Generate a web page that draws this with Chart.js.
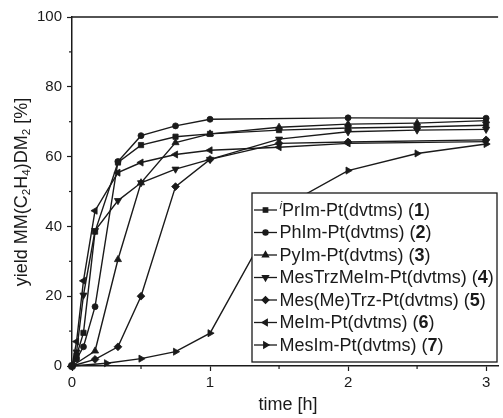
<!DOCTYPE html>
<html>
<head>
<meta charset="utf-8">
<script src="https://cdn.jsdelivr.net/npm/chart.js@4.4.1/dist/chart.umd.min.js"></script>
<style>
  html, body { margin: 0; padding: 0; background: #fff; }
  #wrap { width: 503px; height: 418px; }
</style>
</head>
<body>
<div id="wrap"><canvas id="yieldChart" width="503" height="418"></canvas></div>
<script>
const FONT = "'Liberation Sans', Arial, sans-serif";
const INK = '#1a1a1a';

// sampling times [h] and yields [%], one pair per complex
const t1 = [0, 0.033, 0.083, 0.167, 0.333, 0.5, 0.75, 1, 1.5, 2, 2.5, 3];
const y1 = [0, 3, 9.5, 38.5, 58.3, 63.3, 65.7, 66.5, 67.6, 68.2, 68.5, 69];
const t2 = [0, 0.033, 0.083, 0.167, 0.333, 0.5, 0.75, 1, 2, 3];
const y2 = [0, 2, 5.5, 17, 58.6, 66, 68.8, 70.7, 71.1, 71];
const t3 = [0, 0.167, 0.333, 0.5, 0.75, 1, 1.5, 2, 2.5, 3];
const y3 = [0, 4.3, 30.5, 52.5, 64, 66.5, 68.4, 69.3, 69.6, 70.3];
const t4 = [0, 0.033, 0.083, 0.167, 0.333, 0.5, 0.75, 1, 1.5, 2, 2.5, 3];
const y4 = [0, 4, 20.3, 38.8, 47.4, 52.5, 56.4, 59.2, 65, 67.1, 67.6, 67.8];
const t5 = [0, 0.167, 0.333, 0.5, 0.75, 1, 1.5, 2, 3];
const y5 = [0, 1.9, 5.5, 20, 51.4, 59.2, 63.8, 64.2, 64.8];
const t6 = [0, 0.033, 0.083, 0.167, 0.333, 0.5, 0.75, 1, 1.5, 2, 3];
const y6 = [0, 7, 24.4, 44.5, 55.4, 58.3, 60.6, 61.8, 62.7, 63.8, 64.3];
const t7 = [0, 0.25, 0.5, 0.75, 1, 1.5, 2, 2.5, 3];
const y7 = [0, 0.8, 2.1, 4.1, 9.4, 45, 56, 60.9, 63.6];

const names = ['PrIm-Pt(dvtms)', 'PhIm-Pt(dvtms)', 'PyIm-Pt(dvtms)', 'MesTrzMeIm-Pt(dvtms)',
               'Mes(Me)Trz-Pt(dvtms)', 'MeIm-Pt(dvtms)', 'MesIm-Pt(dvtms)'];
const numbers = ['1', '2', '3', '4', '5', '6', '7'];
const xTickLabels = ['0', '1', '2', '3'];
const yTickLabels = ['0', '20', '40', '60', '80', '100'];

const times = [t1, t2, t3, t4, t5, t6, t7];
const yields = [y1, y2, y3, y4, y5, y6, y7];
const markers = [
  { style: 'rect', rot: 0, r: 3.7 },
  { style: 'circle', rot: 0, r: 3.0 },
  { style: 'triangle', rot: 0, r: 4.1 },
  { style: 'triangle', rot: 180, r: 4.1 },
  { style: 'rectRot', rot: 0, r: 3.9 },
  { style: 'triangle', rot: 270, r: 4.1 },
  { style: 'triangle', rot: 90, r: 4.1 }
];

const datasets = times.map((t, i) => ({
  label: names[i],
  data: t.map((x, j) => ({ x: x, y: yields[i][j] })),
  showLine: true,
  borderColor: INK,
  borderWidth: 1.4,
  backgroundColor: INK,
  pointBackgroundColor: INK,
  pointBorderColor: INK,
  pointBorderWidth: 0.8,
  pointStyle: markers[i].style,
  pointRotation: markers[i].rot,
  pointRadius: markers[i].r,
  clip: false
}));

function drawMarker(ctx, m, x, y) {
  ctx.save();
  ctx.fillStyle = INK;
  ctx.strokeStyle = INK;
  Chart.helpers.drawPoint(ctx, { pointStyle: m.style, rotation: m.rot, radius: m.r * 0.85, borderWidth: 0.8 }, x, y);
  ctx.restore();
}

// draws pieces of text one after another, returns end x
function drawRuns(ctx, runs, x, y, size) {
  runs.forEach(run => {
    let s = size, dy = 0, f = '';
    if (run.kind === 'sub') { s = size * 0.65; dy = size * 0.28; }
    if (run.kind === 'sup') { s = size * 0.65; dy = -size * 0.3; f = 'italic '; }
    if (run.kind === 'bold') { f = 'bold '; }
    ctx.font = f + s + 'px ' + FONT;
    ctx.fillText(run.text, x, y + dy);
    x += ctx.measureText(run.text).width;
  });
  return x;
}
function runsWidth(ctx, runs, size) {
  let w = 0;
  runs.forEach(run => {
    let s = (run.kind === 'sub' || run.kind === 'sup') ? size * 0.65 : size;
    let f = run.kind === 'bold' ? 'bold ' : (run.kind === 'sup' ? 'italic ' : '');
    ctx.font = f + s + 'px ' + FONT;
    w += ctx.measureText(run.text).width;
  });
  return w;
}

const extras = {
  id: 'extras',
  afterDraw(chart) {
    const ctx = chart.ctx;
    const area = chart.chartArea;
    const xs = chart.scales.x, ys = chart.scales.y;

    ctx.save();
    // top frame line
    ctx.strokeStyle = INK;
    ctx.lineWidth = 1.5;
    ctx.beginPath();
    ctx.moveTo(area.left, area.top);
    ctx.lineTo(area.right, area.top);
    ctx.stroke();

    // minor ticks (the unlabelled ones)
    ctx.lineWidth = 1.2;
    xs.ticks.forEach(tk => {
      if (!xTickLabels.includes(String(tk.value))) {
        const px = xs.getPixelForValue(tk.value);
        ctx.beginPath(); ctx.moveTo(px, area.bottom); ctx.lineTo(px, area.bottom + 3); ctx.stroke();
      }
    });
    ys.ticks.forEach(tk => {
      if (!yTickLabels.includes(String(tk.value))) {
        const py = ys.getPixelForValue(tk.value);
        ctx.beginPath(); ctx.moveTo(area.left - 3, py); ctx.lineTo(area.left, py); ctx.stroke();
      }
    });

    // axis titles
    ctx.fillStyle = INK;
    ctx.textBaseline = 'middle';
    ctx.font = '18px ' + FONT;
    ctx.textAlign = 'center';
    ctx.fillText('time [h]', 288, 405);

    const yTitle = [
      { text: 'yield MM(C' }, { text: '2', kind: 'sub' }, { text: 'H' }, { text: '4', kind: 'sub' },
      { text: ')DM' }, { text: '2', kind: 'sub' }, { text: ' [%]' }
    ];
    ctx.textAlign = 'left';
    ctx.save();
    ctx.translate(22, 192);
    ctx.rotate(-Math.PI / 2);
    const w = runsWidth(ctx, yTitle, 18);
    drawRuns(ctx, yTitle, -w / 2, 0, 18);
    ctx.restore();

    // legend box
    const lx = 252, ly = 193, lw = 245, lh = 169;
    ctx.fillStyle = '#fff';
    ctx.fillRect(lx, ly, lw, lh);
    ctx.strokeStyle = INK;
    ctx.lineWidth = 1.3;
    ctx.strokeRect(lx, ly, lw, lh);
    ctx.fillStyle = INK;
    names.forEach((name, i) => {
      const ry = 210 + i * 22.5;
      ctx.beginPath();
      ctx.moveTo(lx + 2, ry); ctx.lineTo(lx + 25, ry);
      ctx.stroke();
      drawMarker(ctx, markers[i], lx + 13.5, ry);
      const runs = [];
      if (i === 0) runs.push({ text: 'i', kind: 'sup' });
      runs.push({ text: name + ' (' }, { text: numbers[i], kind: 'bold' }, { text: ')' });
      ctx.fillStyle = INK;
      drawRuns(ctx, runs, lx + 27.5, ry + 1, 18);
    });
    ctx.restore();
  }
};

new Chart(document.getElementById('yieldChart'), {
  type: 'scatter',
  data: { datasets: datasets },
  options: {
    responsive: false,
    animation: false,
    layout: { padding: { top: 17, right: 0, left: 0, bottom: 0 } },
    plugins: { legend: { display: false }, tooltip: { enabled: false } },
    scales: {
      x: {
        type: 'linear',
        min: 0,
        max: 3.087,
        afterFit(scale) { scale.height = 52; },
        border: { color: INK, width: 1.5 },
        grid: {
          drawOnChartArea: false,
          tickLength: 5,
          tickWidth: 1.2,
          tickColor: c => (c.tick && xTickLabels.includes(String(c.tick.value))) ? INK : 'rgba(0,0,0,0)'
        },
        ticks: {
          stepSize: 0.5,
          includeBounds: false,
          autoSkip: false,
          maxRotation: 0,
          padding: 3,
          color: INK,
          font: { family: FONT, size: 15 },
          callback: v => xTickLabels.includes(String(v)) ? String(v) : ''
        }
      },
      y: {
        min: 0,
        max: 100,
        afterFit(scale) { scale.width = 72; },
        border: { color: INK, width: 1.5 },
        grid: {
          drawOnChartArea: false,
          tickLength: 5,
          tickWidth: 1.2,
          tickColor: c => (c.tick && yTickLabels.includes(String(c.tick.value))) ? INK : 'rgba(0,0,0,0)'
        },
        ticks: {
          stepSize: 10,
          autoSkip: false,
          padding: 5,
          color: INK,
          font: { family: FONT, size: 15 },
          callback: v => yTickLabels.includes(String(v)) ? String(v) : ''
        }
      }
    }
  },
  plugins: [extras]
});
</script>
</body>
</html>
